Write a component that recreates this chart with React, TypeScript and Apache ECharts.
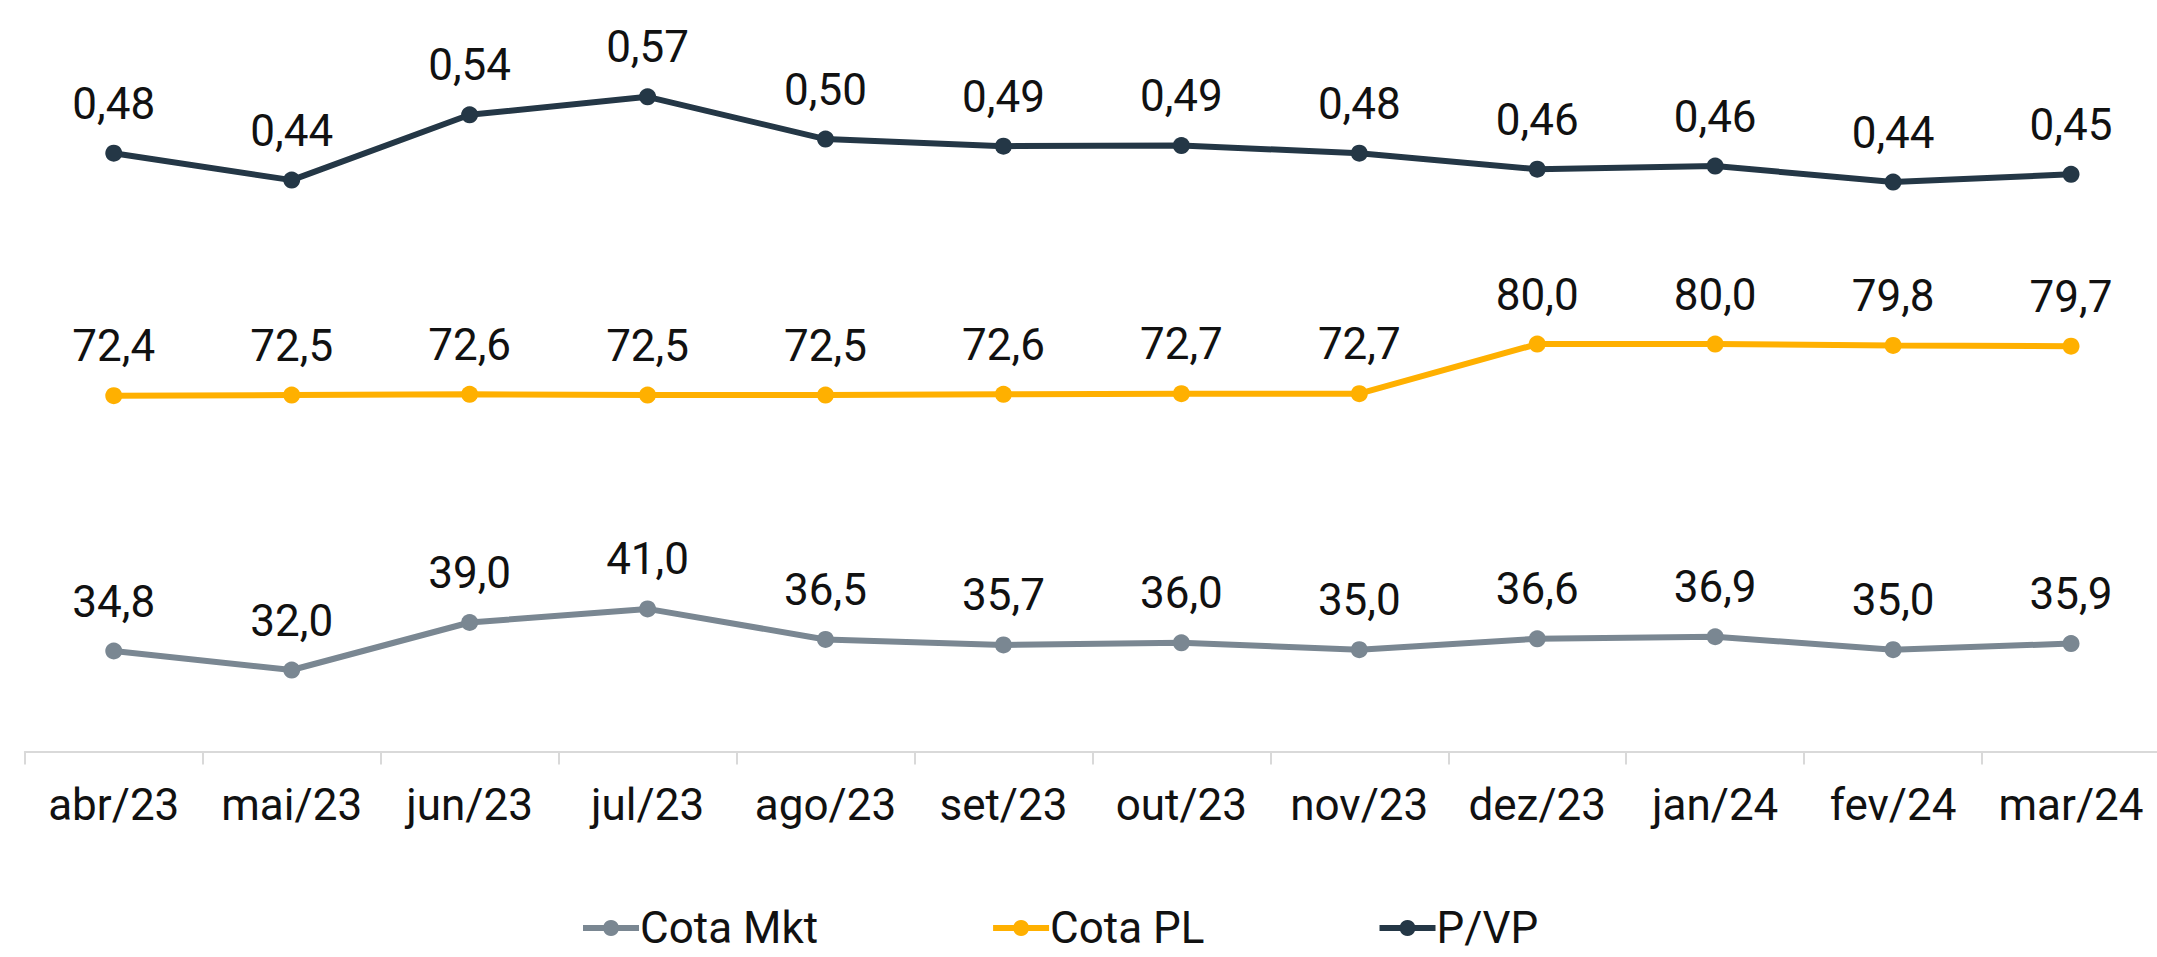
import React, { useEffect, useRef } from "react";
import * as echarts from "echarts";

const categories = ["abr/23", "mai/23", "jun/23", "jul/23", "ago/23", "set/23", "out/23", "nov/23", "dez/23", "jan/24", "fev/24", "mar/24"];
const cotaMkt = [34.8, 32.0, 39.0, 41.0, 36.5, 35.7, 36.0, 35.0, 36.6, 36.9, 35.0, 35.9];
const cotaPL = [72.4, 72.5, 72.6, 72.5, 72.5, 72.6, 72.7, 72.7, 80.0, 80.0, 79.8, 79.7];
const pvp = [0.482, 0.44, 0.542, 0.57, 0.504, 0.493, 0.494, 0.482, 0.457, 0.462, 0.437, 0.449];

const FONT = "Roboto";
const fmt1 = (v: number) => v.toFixed(1).replace(".", ",");
const fmt2 = (v: number) => v.toFixed(2).replace(".", ",");

export default function App() {
  const ref = useRef<HTMLDivElement>(null);
  useEffect(() => {
    if (!ref.current) return;
    const chart = echarts.init(ref.current, undefined, { renderer: "svg" });
    const labelStyle = (f: (v: number) => string) => ({
      show: true,
      position: "top" as const,
      distance: 19,
      fontFamily: FONT,
      fontSize: 44,
      color: "#111",
      formatter: (p: any) => f(p.value),
    });
    const mkSeries = (name: string, data: number[], axis: number, color: string, f: (v: number) => string) => ({
      name,
      type: "line",
      data,
      yAxisIndex: axis,
      symbol: "circle",
      symbolSize: 17,
      color,
      lineStyle: { width: 6, color },
      itemStyle: { color },
      label: labelStyle(f),
    });
    chart.setOption({
      animation: false,
      backgroundColor: "#fff",
      grid: { left: 24.8, right: 1, top: 72.5, bottom: 205.5, containLabel: false },
      legend: {
        left: 580,
        top: 906,
        padding: 0,
        itemGap: 172,
        itemWidth: 56,
        itemHeight: 20,
        lineStyle: { width: 6 },
        textStyle: { fontFamily: FONT, fontSize: 44, lineHeight: 44, color: "#111", padding: [0, 0, 0, -4] },
        data: ["Cota Mkt", "Cota PL", "P/VP"],
      },
      xAxis: {
        type: "category",
        data: categories,
        boundaryGap: true,
        axisLine: { show: true, onZero: false, lineStyle: { color: "#D9D9D9", width: 2 } },
        axisTick: { show: true, length: 13, interval: 0, lineStyle: { color: "#D9D9D9", width: 2 } },
        axisLabel: { fontFamily: FONT, fontSize: 44, color: "#111", margin: 31, interval: 0 },
      },
      yAxis: [
        { type: "value", min: 20, max: 120, show: false, splitLine: { show: false } },
        { type: "value", min: -0.452, max: 0.608, show: false, splitLine: { show: false } },
      ],
      series: [
        mkSeries("Cota Mkt", cotaMkt, 0, "#7A8792", fmt1),
        mkSeries("Cota PL", cotaPL, 0, "#FFB000", fmt1),
        mkSeries("P/VP", pvp, 1, "#243746", fmt2),
      ],
    });
    return () => chart.dispose();
  }, []);
  return (
    <div style={{ position: "fixed", left: 0, top: 0, width: 2157, height: 957, overflow: "hidden", background: "#fff" }}>
      <div ref={ref} style={{ width: 2161, height: 957 }} />
    </div>
  );
}
